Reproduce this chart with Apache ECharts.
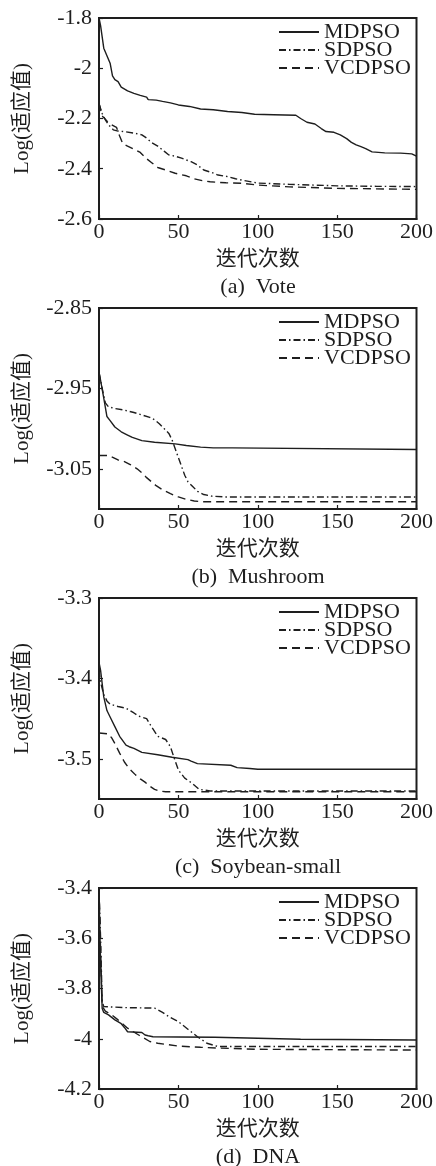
<!DOCTYPE html>
<html>
<head>
<meta charset="utf-8">
<script src="https://cdn.jsdelivr.net/npm/echarts@6/dist/echarts.min.js"></script>
<style>
html,body{margin:0;padding:0;background:#fff;}
#chart{width:436px;height:1166px;}
</style>
</head>
<body>
<div id="chart"></div>
<script>
// ---------- DATA ----------
const seriesNames = ['MDPSO', 'SDPSO', 'VCDPSO'];
const captions = ['(a)  Vote', '(b)  Mushroom', '(c)  Soybean-small', '(d)  DNA'];
const xTicks = [0, 50, 100, 150, 200];
const yTicksVote = [-2.6, -2.4, -2.2, -2, -1.8];
const yTicksMush = [-3.05, -2.95, -2.85];
const yTicksSoy = [-3.5, -3.4, -3.3];
const yTicksDna = [-4.2, -4, -3.8, -3.6, -3.4];

// (a) Vote
const voteMD_x = [0, 1, 3, 5, 7, 8.5, 10, 12, 14, 18, 22, 26, 30, 31, 36, 40, 45, 50, 57, 64, 72, 81, 90, 98, 110, 124, 127, 131, 136, 140, 143, 148, 152, 156, 159, 162, 165, 168, 172, 176, 180, 190, 197, 200];
const voteMD_y = [-1.80, -1.83, -1.92, -1.95, -1.98, -2.03, -2.045, -2.053, -2.075, -2.09, -2.10, -2.108, -2.115, -2.125, -2.127, -2.132, -2.138, -2.146, -2.152, -2.162, -2.165, -2.172, -2.176, -2.183, -2.185, -2.187, -2.20, -2.215, -2.222, -2.24, -2.252, -2.255, -2.265, -2.28, -2.295, -2.305, -2.312, -2.32, -2.333, -2.335, -2.337, -2.338, -2.341, -2.350];
const voteSD_x = [0, 2, 4, 6, 9, 12, 16, 22, 27, 30, 33, 37, 41, 44, 48, 52, 58, 62, 66, 71, 75, 80, 86, 90, 100, 120, 150, 175, 200];
const voteSD_y = [-2.14, -2.18, -2.205, -2.225, -2.245, -2.25, -2.252, -2.258, -2.265, -2.278, -2.295, -2.31, -2.33, -2.345, -2.35, -2.358, -2.372, -2.385, -2.405, -2.415, -2.425, -2.43, -2.44, -2.445, -2.457, -2.462, -2.468, -2.47, -2.471];
const voteVC_x = [0, 2, 5, 8, 11, 13, 15, 18, 22, 26, 30, 33, 37, 42, 48, 55, 60, 65, 70, 80, 90, 100, 120, 150, 175, 200];
const voteVC_y = [-2.14, -2.19, -2.21, -2.225, -2.235, -2.27, -2.30, -2.31, -2.322, -2.335, -2.36, -2.375, -2.395, -2.405, -2.418, -2.428, -2.44, -2.447, -2.452, -2.456, -2.458, -2.465, -2.472, -2.478, -2.48, -2.482];

// (b) Mushroom
const mushMD_x = [0, 1, 3, 5, 7, 10, 14, 18, 21, 27, 35, 48, 55, 64, 72, 84, 85, 200];
const mushMD_y = [-2.93, -2.94, -2.962, -2.985, -2.99, -2.998, -3.004, -3.008, -3.011, -3.015, -3.017, -3.019, -3.021, -3.023, -3.024, -3.024, -3.026, -3.026];
const mushSD_x = [0, 2, 4, 6, 10, 16, 22, 27, 32, 35, 38, 41, 44, 46, 48, 50, 52, 54, 56, 59, 62, 66, 71, 79, 200];
const mushSD_y = [-2.93, -2.95, -2.968, -2.973, -2.975, -2.977, -2.98, -2.983, -2.986, -2.989, -2.994, -3.0, -3.006, -3.014, -3.025, -3.036, -3.047, -3.058, -3.066, -3.072, -3.078, -3.082, -3.084, -3.085, -3.085];
const mushVC_x = [0, 6, 9, 12, 16, 20, 24, 27, 30, 33, 36, 40, 45, 50, 55, 60, 65, 200];
const mushVC_y = [-3.0335, -3.0335, -3.036, -3.039, -3.041, -3.045, -3.05, -3.055, -3.061, -3.066, -3.071, -3.076, -3.081, -3.085, -3.088, -3.09, -3.091, -3.091];

// (c) Soybean-small
const soyMD_x = [0, 1, 3, 5, 7, 10, 13, 17, 19, 22, 27, 37, 46, 56, 58, 62, 83, 87, 95, 100, 200];
const soyMD_y = [-3.38, -3.39, -3.423, -3.44, -3.448, -3.46, -3.472, -3.483, -3.485, -3.487, -3.492, -3.495, -3.498, -3.501, -3.503, -3.506, -3.508, -3.511, -3.512, -3.513, -3.513];
const soySD_x = [0, 1, 3, 5, 7, 12, 17, 22, 25, 30, 33, 37, 42, 45, 47, 50, 54, 59, 63, 70, 200];
const soySD_y = [-3.39, -3.405, -3.42, -3.428, -3.432, -3.435, -3.437, -3.443, -3.447, -3.45, -3.46, -3.472, -3.476, -3.485, -3.497, -3.514, -3.524, -3.531, -3.538, -3.540, -3.540];
const soyVC_x = [0, 6, 8, 10, 13, 16, 19, 23, 26, 29, 32, 35, 38, 42, 200];
const soyVC_y = [-3.468, -3.469, -3.474, -3.481, -3.493, -3.504, -3.512, -3.52, -3.525, -3.529, -3.534, -3.538, -3.54, -3.541, -3.541];

// (d) DNA
const dnaMD_x = [0, 1, 2, 3, 6, 10, 14, 16, 18, 27, 29, 31, 34, 50, 73, 74, 127, 128, 200];
const dnaMD_y = [-3.42, -3.70, -3.88, -3.895, -3.905, -3.925, -3.94, -3.955, -3.972, -3.975, -3.985, -3.988, -3.992, -3.993, -3.994, -4.001, -4.002, -4.005, -4.005];
const dnaSD_x = [0, 1, 2, 3, 16, 35, 40, 44, 50, 56, 62, 68, 75, 200];
const dnaSD_y = [-3.40, -3.60, -3.85, -3.872, -3.876, -3.878, -3.895, -3.912, -3.932, -3.962, -3.992, -4.018, -4.031, -4.031];
const dnaVC_x = [0, 1, 2, 4, 8, 12, 18, 25, 32, 37, 50, 64, 75, 100, 200];
const dnaVC_y = [-3.41, -3.65, -3.87, -3.89, -3.905, -3.925, -3.958, -3.985, -4.011, -4.018, -4.029, -4.034, -4.037, -4.042, -4.045];

// ---------- BUILD ----------
const FONT = '"Liberation Serif", "Noto Sans CJK SC", serif';
const INK = '#1e1e1e';
const zip = (xs, ys) => xs.map((x, i) => [x, ys[i]]);

const panels = [
  { ticks: yTicksVote, data: [[voteMD_x, voteMD_y], [voteSD_x, voteSD_y], [voteVC_x, voteVC_y]] },
  { ticks: yTicksMush, data: [[mushMD_x, mushMD_y], [mushSD_x, mushSD_y], [mushVC_x, mushVC_y]] },
  { ticks: yTicksSoy, data: [[soyMD_x, soyMD_y], [soySD_x, soySD_y], [soyVC_x, soyVC_y]] },
  { ticks: yTicksDna, data: [[dnaMD_x, dnaMD_y], [dnaSD_x, dnaSD_y], [dnaVC_x, dnaVC_y]] }
];
const yRanges = [[-2.6, -1.8], [-3.1, -2.85], [-3.55, -3.3], [-4.2, -3.4]];
const gridTops = [18, 308, 598, 888];
const GH = 201;
const dashTypes = ['solid', [7, 3, 1.5, 3], [8, 5]];

const grid = [], xAxis = [], yAxis = [], series = [], legend = [], graphic = [];
panels.forEach((p, i) => {
  grid.push({ left: 99, width: 319, top: gridTops[i], height: GH, show: true, borderColor: INK, borderWidth: 2, backgroundColor: 'transparent' });
  xAxis.push({
    type: 'value', gridIndex: i, min: 0, max: 200, interval: 50,
    name: '迭代次数', nameLocation: 'middle', nameGap: 30,
    nameTextStyle: { fontFamily: FONT, fontSize: 21, color: INK },
    axisLine: { show: true, lineStyle: { color: INK, width: 2 } },
    axisTick: { show: true, inside: true, length: 4, lineStyle: { color: INK, width: 1.2 } },
    axisLabel: { fontFamily: FONT, fontSize: 22, color: INK, margin: 2, customValues: xTicks },
    splitLine: { show: false }
  });
  yAxis.push({
    type: 'value', gridIndex: i, min: yRanges[i][0], max: yRanges[i][1],
    name: 'Log(适应值)', nameLocation: 'middle', nameGap: 66,
    nameTextStyle: { fontFamily: FONT, fontSize: 21, color: INK },
    axisLine: { show: true, lineStyle: { color: INK, width: 2 } },
    axisTick: { show: true, inside: true, length: 4, customValues: p.ticks, lineStyle: { color: INK, width: 1.2 } },
    axisLabel: { fontFamily: FONT, fontSize: 22, color: INK, margin: 7, customValues: p.ticks,
      formatter: v => String(parseFloat(Number(v).toFixed(3))) },
    splitLine: { show: false }
  });
  p.data.forEach((d, k) => {
    series.push({
      type: 'line', name: seriesNames[k], xAxisIndex: i, yAxisIndex: i,
      data: zip(d[0], d[1]), symbol: 'none', showSymbol: false,
      lineStyle: { color: INK, width: 1.4, type: dashTypes[k] },
      itemStyle: { color: INK }, animation: false
    });
  });
  legend.push({
    data: seriesNames, orient: 'vertical', left: 278, top: gridTops[i] + 3, padding: 0,
    itemWidth: 40, itemHeight: 10, itemGap: -4, selectedMode: false,
    itemStyle: { opacity: 0 },
    textStyle: { fontFamily: FONT, fontSize: 22, color: INK, lineHeight: 18 }
  });
  graphic.push({
    type: 'text', x: 258, y: gridTops[i] + 269,
    style: { text: captions[i], fill: INK, font: '22px ' + FONT, textAlign: 'center', textVerticalAlign: 'middle' }
  });
});

const chart = echarts.init(document.getElementById('chart'), null, { renderer: 'canvas' });
chart.setOption({ animation: false, backgroundColor: '#fff', grid, xAxis, yAxis, series, legend, graphic });
</script>
</body>
</html>
